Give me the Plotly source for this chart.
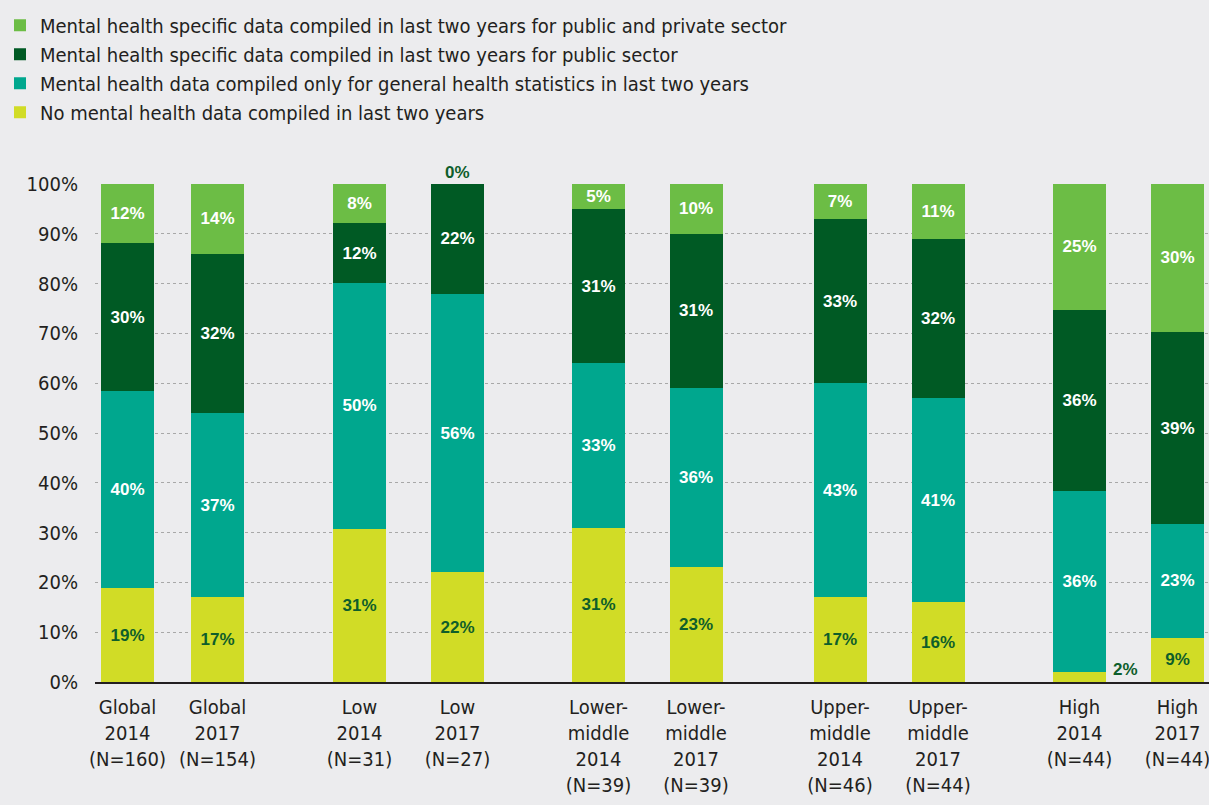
import plotly.graph_objects as go

# ---------------- data ----------------
categories = [
    "Global<br>2014<br>(N=160)", "Global<br>2017<br>(N=154)",
    "Low<br>2014<br>(N=31)", "Low<br>2017<br>(N=27)",
    "Lower-<br>middle<br>2014<br>(N=39)", "Lower-<br>middle<br>2017<br>(N=39)",
    "Upper-<br>middle<br>2014<br>(N=46)", "Upper-<br>middle<br>2017<br>(N=44)",
    "High<br>2014<br>(N=44)", "High<br>2017<br>(N=44)",
]
no_data = [19, 17, 31, 22, 31, 23, 17, 16, 2, 9]
general_only = [40, 37, 50, 56, 33, 36, 43, 41, 36, 23]
public_sector = [30, 32, 12, 22, 31, 31, 33, 32, 36, 39]
public_private = [12, 14, 8, 0, 5, 10, 7, 11, 25, 30]

series_names = [
    "No mental health data compiled in last two years",
    "Mental health data compiled only for general health statistics in last two years",
    "Mental health specific data compiled in last two years for public sector",
    "Mental health specific data compiled in last two years for public and private sector",
]

# ---------------- layout / style ----------------
slot_x = [127.5, 217.5, 359.5, 457.5, 598.5, 696, 840, 938, 1079.5, 1177.5]
bar_w = 53
colors = ["#D1DC26", "#00A78E", "#005A24", "#6CBD45"]
label_colors = ["#0E5E2B", "white", "white", "white"]
BG = "#ECECEE"
NARROW = "DejaVu Sans Condensed, Liberation Sans Narrow, sans-serif"
BOLD = "Liberation Sans, Arial, sans-serif"
TXT = "#231F20"

fig = go.Figure()
all_series = [no_data, general_only, public_sector, public_private]
for vals, name, col, lcol in zip(all_series, series_names, colors, label_colors):
    text = [f"{v}%" if v >= 3 else "" for v in vals]
    fig.add_trace(go.Bar(
        x=slot_x, y=vals, name=name, width=bar_w,
        marker=dict(color=col, line=dict(width=0)),
        text=text, textposition="inside", insidetextanchor="middle",
        constraintext="none", textangle=0,
        textfont=dict(family=BOLD, size=17, color=lcol, weight="bold"),
        hoverinfo="skip",
    ))

# 2% label (High 2014, no data) to the right of the bar
for i, v in enumerate(no_data):
    if v < 3:
        fig.add_annotation(x=slot_x[i] + bar_w / 2, y=0, xanchor="left", yanchor="bottom",
                           xshift=5, yshift=1, text=f"<b>{v}%</b>", showarrow=False,
                           font=dict(family=BOLD, size=17, color="#0E5E2B"))
# 0% label (Low 2017, public & private) above the bar
for i, v in enumerate(public_private):
    if v < 3:
        fig.add_annotation(x=slot_x[i], y=100, xanchor="center", yanchor="bottom",
                           yshift=0, text=f"<b>{v}%</b>", showarrow=False,
                           font=dict(family=BOLD, size=17, color="#0E5E2B"))

fig.update_layout(
    width=1209, height=805,
    paper_bgcolor=BG, plot_bgcolor=BG,
    barmode="stack", barnorm="percent",
    margin=dict(l=95, r=0, t=184, b=123, autoexpand=False),
    font=dict(family=NARROW, size=20, color=TXT),
    legend=dict(
        x=0, y=0.993, xref="container", yref="container", xanchor="left", yanchor="top",
        traceorder="reversed", font=dict(family=NARROW, size=20, color=TXT),
        bgcolor="rgba(0,0,0,0)", itemwidth=30, tracegroupgap=0,
    ),
    showlegend=True,
    xaxis=dict(
        range=[95, 1209], tickmode="array", tickvals=slot_x, ticktext=categories,
        showgrid=False, zeroline=False, showline=True, linecolor=TXT, linewidth=2,
        ticks="", ticklabelstandoff=6, tickangle=0, automargin=False,
        ticklabeloverflow="allow",
        tickfont=dict(family=NARROW, size=20, color=TXT),
        fixedrange=True,
    ),
    yaxis=dict(
        range=[0, 100], tickmode="array", tickvals=list(range(0, 101, 10)),
        ticktext=[f"{t}%" for t in range(0, 101, 10)],
        showgrid=True, gridcolor="#A8A8A8", griddash="dot", gridwidth=1,
        zeroline=False, showline=False, ticks="", ticklabelstandoff=16, automargin=False,
        tickfont=dict(family=NARROW, size=20, color=TXT),
        fixedrange=True,
    ),
)

fig.write_html(
    "out.html",
    config={"displayModeBar": False},
    post_script="document.body.style.margin='0';document.body.style.overflow='hidden';"
                "document.body.style.background='" + BG + "';",
)
